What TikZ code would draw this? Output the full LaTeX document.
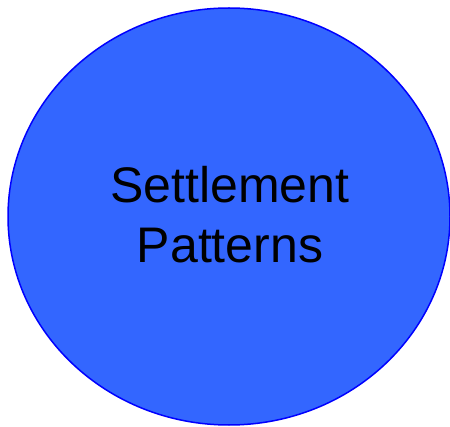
\documentclass[tikz,border=0pt]{standalone}
\usepackage{fontspec}
\setmainfont{Liberation Sans}
\usetikzlibrary{shapes.geometric}
\definecolor{settlefill}{HTML}{3366FF}
\definecolor{settleline}{HTML}{0000FF}
\begin{document}
\begin{tikzpicture}[x=1pt, y=1pt, line join=round, line cap=round]
	\useasboundingbox (0,0) rectangle (450,426);
	\node[ellipse, draw=settleline, fill=settlefill, line width=1.5pt,
		minimum width=442pt, minimum height=417pt, inner sep=0pt] (settle) at (229,209.5) {};
	\node[align=center, inner sep=0pt, font=\fontsize{50pt}{60pt}\selectfont] (settletext) at (230,211) {Settlement\\Patterns};
\end{tikzpicture}
\end{document}
